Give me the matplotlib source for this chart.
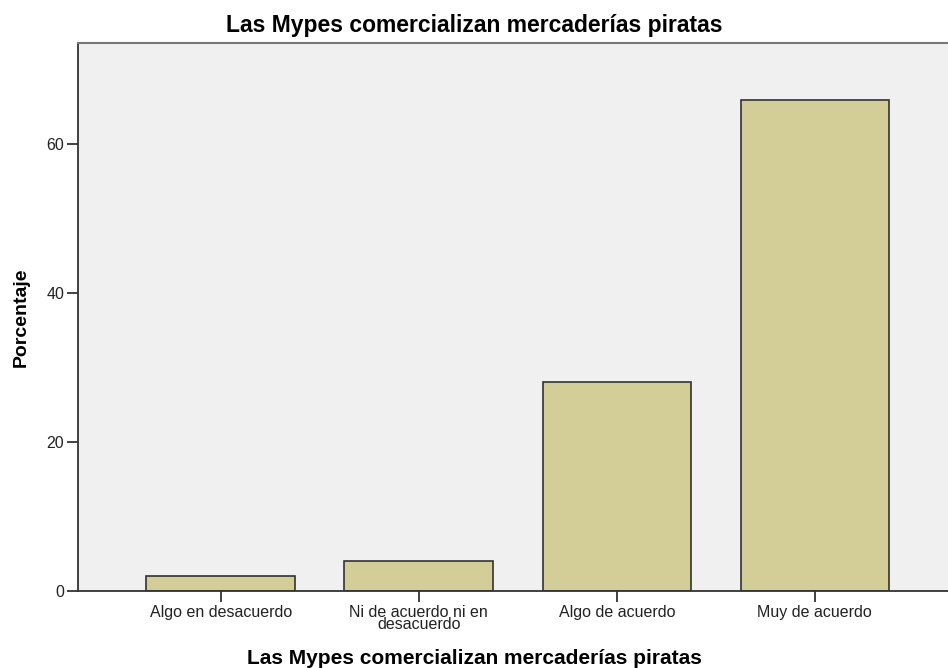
import matplotlib.pyplot as plt

categorias = ["Algo en desacuerdo", "Ni de acuerdo ni en\ndesacuerdo",
              "Algo de acuerdo", "Muy de acuerdo"]
porcentaje = [2.0, 4.0, 28.0, 66.0]
yticks = [0, 20, 40, 60]

plt.rcParams['font.family'] = ['Liberation Sans', 'DejaVu Sans']

fig = plt.figure(figsize=(9.48, 6.68), dpi=100)
ax = fig.add_axes([0.0823, 0.1153, 0.9277, 0.8204])
ax.set_facecolor('#f0f0f0')

x = range(len(categorias))
ax.bar(x, porcentaje, width=0.75, color='#d3ce97', edgecolor='#333333', linewidth=1.2)

ax.set_xlim(-0.72, 3.72)
ax.set_ylim(0, 73.6)
ax.set_xticks(list(x))
ax.set_xticklabels(categorias, fontsize=11.5, linespacing=0.8, color='#222222')
ax.set_yticks(yticks)
ax.set_yticklabels([str(v) for v in yticks], fontsize=11.5, color='#222222')
ax.tick_params(axis='both', direction='out', length=8, width=1.3, color='#333333', pad=2)

for s in ['left', 'bottom']:
    ax.spines[s].set_color('#333333')
    ax.spines[s].set_linewidth(1.3)
ax.spines['top'].set_color('#777777')
ax.spines['top'].set_linewidth(1.5)
ax.spines['right'].set_visible(False)

# titulo y etiqueta x centrados en la figura, no en los ejes
cx = (0.5 - 0.0823) / 0.9277
ax.set_title("Las Mypes comercializan mercaderías piratas", fontsize=16.5,
             fontweight='bold', pad=8, x=cx)
ax.set_xlabel("Las Mypes comercializan mercaderías piratas", fontsize=15,
              fontweight='bold', labelpad=12, x=cx)
ax.set_ylabel("Porcentaje", fontsize=14, fontweight='bold', labelpad=12)

fig.savefig("out.png", dpi=100)
